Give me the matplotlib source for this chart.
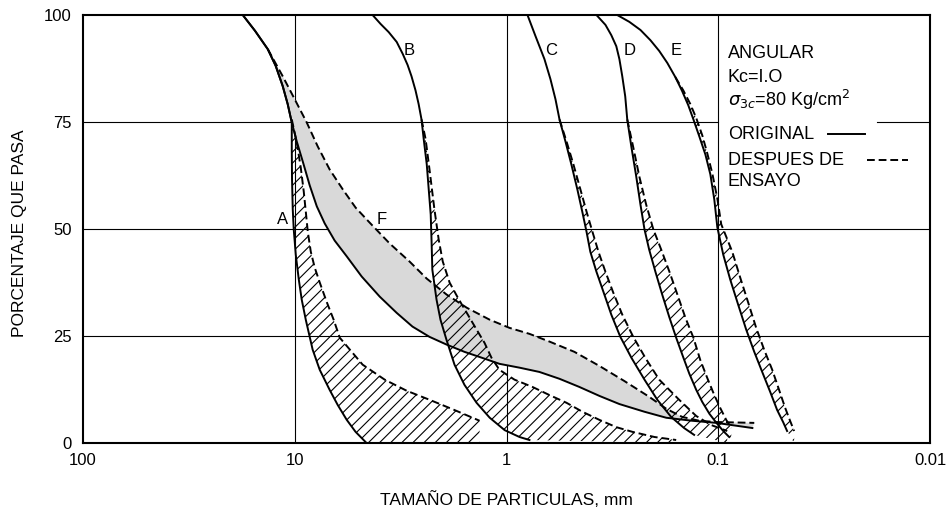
import numpy as np
import matplotlib
matplotlib.use("Agg")
import matplotlib.pyplot as plt

plt.rcParams["font.family"] = ["Liberation Sans", "DejaVu Sans"]
plt.rcParams["hatch.linewidth"] = 0.8

# Gradation curves: particle size (mm) vs. percent passing.
# "orig" = original gradation (solid), "test" = after the test (dashed).
a_orig_mm = [17.6, 15.4, 13.4, 12.3, 11.4, 10.8, 10.33, 10.33, 10.3, 10.22, 10.11, 9.89,
             9.57, 9.27, 8.87, 8.23, 7.62, 6.84, 6.27, 5.68, 5.16, 4.58]
a_orig_pct = [100, 96.3, 92, 88.1, 83.4, 79.2, 74.9, 68.6, 61.6, 54.6, 49.9, 44.0,
              38.2, 33.5, 28.8, 21.8, 17.1, 12.4, 8.9, 5.4, 2.6, 0]
a_test_mm = [10.33, 9.79, 9.37, 9.07, 8.87, 8.68, 8.40, 8.05, 7.62, 7.07, 6.55, 6.13,
             4.78, 3.76, 2.96, 2.31, 1.76, 1.34]
a_test_pct = [75.6, 70.3, 64.4, 58.8, 54.1, 49.4, 44.7, 41.0, 37.5, 33.0, 28.8, 24.6,
              18.3, 14.8, 12.2, 10.1, 7.7, 5.2]

f_orig_mm = [17.6, 15.4, 13.4, 12.3, 11.4, 10.8, 10.33, 9.79, 9.17, 8.50, 7.87, 7.22,
             6.48, 5.68, 4.83, 3.97, 3.30, 2.78, 2.31, 1.92, 1.58, 1.34, 1.08, 0.868,
             0.699, 0.562, 0.453, 0.364, 0.293, 0.223, 0.176, 0.133, 0.102, 0.069]
f_orig_pct = [100, 96.3, 92, 88.1, 83.4, 79.2, 74.9, 70.5, 65.8, 60.2, 55.3, 51.3,
              47.3, 43.6, 38.9, 34.2, 30.4, 27.2, 24.8, 23.0, 21.3, 20.1, 18.5, 17.6,
              16.6, 15.0, 13.1, 11.0, 9.1, 7.3, 5.9, 5.2, 4.7, 3.5]
f_test_mm = [13.4, 11.4, 10.0, 8.78, 7.79, 6.84, 5.94, 5.16, 4.43, 3.56, 2.87, 2.38,
             1.92, 1.54, 1.20, 0.968, 0.779, 0.627, 0.478, 0.364, 0.278, 0.212, 0.176,
             0.148, 0.123, 0.102, 0.0676]
f_test_pct = [92, 85.7, 80.3, 74.9, 69.3, 63.9, 59.3, 55.0, 51.5, 46.6, 42.4, 38.4,
              34.7, 31.6, 28.8, 26.9, 25.5, 23.7, 21.3, 18.0, 14.5, 10.8, 8.0,
              6.1, 5.2, 4.9, 4.7]

b_orig_mm = [4.29, 3.93, 3.60, 3.30, 3.09, 2.93, 2.81, 2.69, 2.60, 2.52, 2.46, 2.38,
             2.33, 2.28, 2.26, 2.24, 2.14, 2.05, 1.92, 1.76, 1.58, 1.385, 1.20, 1.02,
             0.868, 0.779]
b_orig_pct = [100, 97.9, 96.0, 93.7, 90.9, 88.3, 85.7, 82.4, 79.2, 75.6, 71.0, 65.1,
              59.3, 53.4, 47.5, 40.5, 33.5, 28.8, 24.1, 18.3, 13.6, 9.4, 5.9, 3.0,
              1.4, 0.7]
b_test_mm = [2.52, 2.41, 2.31, 2.19, 2.09, 2.00, 1.857, 1.70, 1.54, 1.40, 1.27, 1.177,
             1.08, 0.917, 0.754, 0.627, 0.521, 0.438, 0.364, 0.303, 0.254, 0.200, 0.158]
b_test_pct = [75.6, 71.0, 63.9, 54.6, 47.5, 42.4, 37.5, 34.0, 30.4, 26.9, 23.4, 19.9,
              17.1, 14.8, 13.1, 11.2, 9.4, 7.3, 5.4, 3.7, 2.6, 1.4, 0.7]

c_orig_mm = [0.796, 0.730, 0.662, 0.620, 0.587, 0.562, 0.527, 0.494, 0.463, 0.438,
             0.419, 0.402, 0.376, 0.349, 0.320, 0.290, 0.257, 0.223, 0.194, 0.167,
             0.145, 0.130]
c_orig_pct = [100, 95.1, 89.7, 85.0, 80.3, 75.6, 70.5, 65.1, 59.3, 53.9,
              49.4, 44.7, 40.0, 35.4, 30.0, 24.8, 19.9, 14.8, 10.1, 6.1,
              3.5, 1.9]
c_test_mm = [0.562, 0.521, 0.483, 0.448, 0.419, 0.393, 0.368, 0.341, 0.313, 0.284,
             0.252, 0.221, 0.190, 0.153, 0.127, 0.108, 0.0907]
c_test_pct = [75.6, 70.5, 65.1, 59.3, 54.1, 49.4, 44.7, 40.0, 35.1, 30.0,
              24.8, 19.9, 14.8, 10.1, 6.3, 4.2, 2.8]

d_orig_mm = [0.376, 0.341, 0.320, 0.303, 0.293, 0.284, 0.275, 0.269, 0.257, 0.244,
             0.233, 0.223, 0.212, 0.198, 0.184, 0.170, 0.158, 0.146, 0.137, 0.127,
             0.119, 0.110, 0.102, 0.0947, 0.0888]
d_orig_pct = [100, 97.7, 95.3, 92.7, 89.7, 85.7, 81.0, 75.6, 69.1, 62.3,
              55.7, 49.9, 45.2, 40.0, 34.7, 29.3, 24.6, 19.9, 16.2, 12.4,
              9.6, 6.8, 4.7, 2.8, 1.4]
d_test_mm = [0.269, 0.252, 0.236, 0.219, 0.2025, 0.186, 0.170, 0.156, 0.143, 0.131,
             0.1216, 0.1127, 0.1044, 0.0979, 0.0917, 0.0868]
d_test_pct = [75.6, 69.1, 62.3, 55.7, 49.9, 45.2, 40.0, 34.7, 29.3, 24.6,
              19.4, 15.2, 11.2, 8.2, 5.4, 3.5]

e_orig_mm = [0.30, 0.263, 0.233, 0.209, 0.190, 0.174, 0.1595, 0.148, 0.1385, 0.131,
             0.123, 0.115, 0.109, 0.1044, 0.101, 0.0947, 0.0878, 0.0805, 0.0738, 0.0676,
             0.0620, 0.0568, 0.0527, 0.0494, 0.0473]
e_orig_pct = [100, 98.4, 96.5, 94.1, 91.6, 88.8, 85.5, 82.2, 78.9, 75.6,
              71.7, 67.4, 62.8, 56.9, 50.4, 44.0, 38.2, 32.3, 26.5, 21.3,
              16.6, 11.9, 7.7, 4.9, 2.8]
e_test_mm = [0.1595, 0.1463, 0.1355, 0.127, 0.119, 0.1127, 0.1067, 0.101, 0.0968,
             0.0859, 0.0787, 0.0722, 0.0662, 0.0607, 0.0556, 0.0516, 0.0483, 0.0458,
             0.0438]
e_test_pct = [85.5, 82.4, 79.2, 75.9, 71.9, 67.7, 63.0, 57.1, 51.1,
              44.7, 38.6, 32.8, 26.9, 21.8, 17.1, 12.4, 8.2, 5.2,
              2.8]

curve_names = ["A", "F", "B", "C", "D", "E"]
label_pos_mm = [11.39, 3.89, 2.87, 0.613, 0.263, 0.158]
label_pos_pct = [52.2, 52.2, 91.6, 91.6, 91.6, 91.6]

x_ticks = [100, 10, 1, 0.1, 0.01]
x_ticklabels = ["100", "10", "1", "0.1", "0.01"]
y_ticks = [0, 25, 50, 75, 100]
y_ticklabels = ["0", "25", "50", "75", "100"]

fig = plt.figure(figsize=(9.46, 5.18), dpi=100)
ax = fig.add_axes([83 / 946, 75 / 518, 847 / 946, 428 / 518])
ax.set_xscale("log")
ax.set_xlim(100, 0.01)
ax.set_ylim(0, 100)

# grid
for xv in x_ticks[1:-1]:
    ax.axvline(xv, color="black", lw=0.8, zorder=1)
for yv in (25, 50):
    ax.axhline(yv, color="black", lw=0.8, zorder=1)
ax.axhline(75, xmin=0, xmax=0.75, color="black", lw=0.8, zorder=1)
ax.axhline(75, xmin=0.937, xmax=1, color="black", lw=0.8, zorder=1)


def band(orig_x, orig_y, test_x, test_y, close_to_axis=True):
    """Polygon between an original curve (from the branch point down) and the test curve."""
    ox = np.asarray(orig_x, float)
    oy = np.asarray(orig_y, float)
    tx = np.asarray(test_x, float)
    ty = np.asarray(test_y, float)
    keep = oy <= ty[0]
    if close_to_axis:
        px = np.r_[ox[keep], tx[-1], tx[::-1]]
        py = np.r_[oy[keep], 0.0, ty[::-1]]
    else:
        px = np.r_[ox[keep], tx[::-1]]
        py = np.r_[oy[keep], ty[::-1]]
    return px, py


# shaded band of curve F
fx, fy = band(f_orig_mm, f_orig_pct, f_test_mm, f_test_pct, close_to_axis=False)
ax.fill(fx, fy, facecolor="#d9d9d9", edgecolor="none", zorder=2)

# hatched bands
hatched = [
    (a_orig_mm, a_orig_pct, a_test_mm, a_test_pct),
    (b_orig_mm, b_orig_pct, b_test_mm, b_test_pct),
    (c_orig_mm, c_orig_pct, c_test_mm, c_test_pct),
    (d_orig_mm, d_orig_pct, d_test_mm, d_test_pct),
    (e_orig_mm, e_orig_pct, e_test_mm, e_test_pct),
]
for ox, oy, tx, ty in hatched:
    px, py = band(ox, oy, tx, ty)
    ax.fill(px, py, facecolor="none", edgecolor="black", hatch="///", linewidth=0, zorder=3)

dash = (0, (4, 2))
curves = [
    (a_orig_mm, a_orig_pct, a_test_mm, a_test_pct),
    (f_orig_mm, f_orig_pct, f_test_mm, f_test_pct),
    (b_orig_mm, b_orig_pct, b_test_mm, b_test_pct),
    (c_orig_mm, c_orig_pct, c_test_mm, c_test_pct),
    (d_orig_mm, d_orig_pct, d_test_mm, d_test_pct),
    (e_orig_mm, e_orig_pct, e_test_mm, e_test_pct),
]
for ox, oy, tx, ty in curves:
    ax.plot(ox, oy, color="black", lw=1.4, zorder=4, solid_joinstyle="round")
    ax.plot(tx, ty, color="black", lw=1.4, ls=dash, zorder=4)

for name, lx, ly in zip(curve_names, label_pos_mm, label_pos_pct):
    ax.text(lx, ly, name, fontsize=12, ha="center", va="center", zorder=5)

# legend block
ax.text(0.7615, 0.911, "ANGULAR", transform=ax.transAxes, fontsize=13, va="center", ha="left")
ax.text(0.7615, 0.855, "Kc=I.O", transform=ax.transAxes, fontsize=13, va="center", ha="left")
ax.text(0.7615, 0.801, r"$\sigma_{3c}$=80 Kg/cm$^2$", transform=ax.transAxes, fontsize=13,
        va="center", ha="left")
ax.text(0.7615, 0.720, "ORIGINAL", transform=ax.transAxes, fontsize=13, va="center", ha="left")
ax.text(0.7615, 0.661, "DESPUES DE", transform=ax.transAxes, fontsize=13, va="center", ha="left")
ax.text(0.7615, 0.610, "ENSAYO", transform=ax.transAxes, fontsize=13, va="center", ha="left")
ax.plot([0.880, 0.923], [0.722, 0.722], transform=ax.transAxes, color="black", lw=1.4)
ax.plot([0.926, 0.974], [0.661, 0.661], transform=ax.transAxes, color="black", lw=1.4, ls=dash)

ax.set_xticks(x_ticks)
ax.set_xticklabels(x_ticklabels)
ax.set_yticks(y_ticks)
ax.set_yticklabels(y_ticklabels)
ax.minorticks_off()
ax.tick_params(axis="both", length=0, labelsize=12)
ax.tick_params(axis="x", pad=7)
ax.tick_params(axis="y", pad=8)
for s in ax.spines.values():
    s.set_linewidth(1.5)

fig.text(506 / 946, 1 - 500 / 518, "TAMAÑO DE PARTICULAS, mm", fontsize=12.5,
         ha="center", va="center")
fig.text(20 / 946, 1 - 233 / 518, "PORCENTAJE QUE PASA", fontsize=12.5, rotation=90,
         ha="center", va="center")

fig.savefig("out.png", dpi=100)
